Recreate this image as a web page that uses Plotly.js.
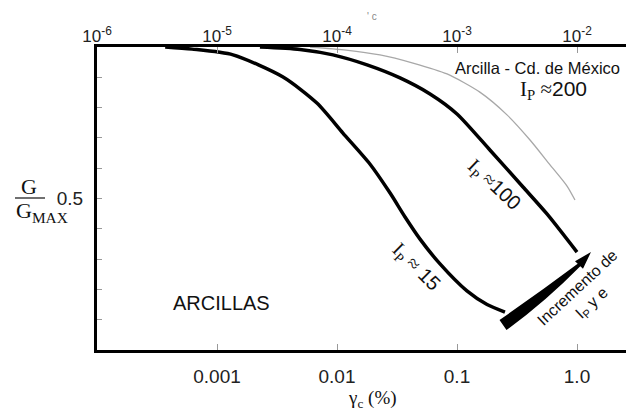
<!DOCTYPE html>
<html><head><meta charset="utf-8">
<script src="https://cdn.plot.ly/plotly-3.0.1.min.js"></script>
<style>html,body{margin:0;padding:0;background:#fff}</style>
</head><body><div id="chart" style="width:626px;height:413px"></div>
<script>
// Shear strain (%) and G/Gmax
const strainIp15 = [0.00037,0.00062,0.00136,0.00355,0.0068,0.0112,0.0188,0.0277,0.0369,0.0492,0.0722,0.121,0.178,0.251];
const gIp15      = [1.0,0.993,0.974,0.901,0.815,0.716,0.614,0.518,0.439,0.366,0.284,0.195,0.150,0.125];
const strainIp100 = [0.00228,0.00492,0.00926,0.0178,0.0335,0.0596,0.1,0.188,0.355,0.562,1.0];
const gIp100      = [1.0,0.992,0.974,0.941,0.898,0.845,0.779,0.660,0.538,0.449,0.323];
const strainIp200 = [0.00596,0.0119,0.0228,0.043,0.0826,0.155,0.261,0.406,0.596,0.826,0.962];
const gIp200      = [1.0,0.99,0.974,0.947,0.911,0.851,0.776,0.693,0.611,0.541,0.495];

const bottomTickVals = [0.001,0.01,0.1,1];
const bottomTickText = ['0.001','0.01','0.1','1.0'];
const topTickVals = [1e-6,1e-5,1e-4,1e-3,1e-2];
const topTickText = ['10<sup>-6</sup>','10<sup>-5</sup>','10<sup>-4</sup>','10<sup>-3</sup>','10<sup>-2</sup>'];
const yTickVals = [0,0.1,0.2,0.3,0.4,0.5,0.6,0.7,0.8,0.9,1.0];
const yTickText = ['','','','','','0.5','','','','',''];

const SANS = 'Liberation Sans, Arial, sans-serif';
const SERIF = 'Liberation Serif, Times New Roman, serif';

// plot-area geometry helpers (for decorations only)
const L = 97, T = 47, W = 529, H = 303;
const px = v => (v - L) / W;
const py = v => (T + H - v) / H;
const decadeWidth = 120;
const xRightLog = -4 + W / decadeWidth;

const traces = [
  {x: strainIp200, y: gIp200, mode: 'lines', line: {color: '#a8a8a8', width: 1.3, shape: 'spline', smoothing: 0.7}, hoverinfo: 'skip', showlegend: false},
  {x: strainIp100, y: gIp100, mode: 'lines', line: {color: '#000', width: 3.5, shape: 'spline', smoothing: 0.7}, hoverinfo: 'skip', showlegend: false},
  {x: strainIp15, y: gIp15, mode: 'lines', line: {color: '#000', width: 3.5, shape: 'spline', smoothing: 0.7}, hoverinfo: 'skip', showlegend: false},
  {x: [1e-5], y: [0.5], xaxis: 'x2', mode: 'markers', marker: {opacity: 0}, hoverinfo: 'skip', showlegend: false}
];

// tapered arrow (pixel geometry converted to paper)
const P = (a, b) => px(a).toFixed(4) + ',' + py(b).toFixed(4);
const arrowPath = 'M ' + P(499.5,320) + ' Q ' + P(540,292) + ' ' + P(577.7,263.8) +
  ' L ' + P(575,261.3) + ' L ' + P(591,252) + ' L ' + P(583,268.7) + ' L ' + P(580.3,266.2) +
  ' Q ' + P(545,302) + ' ' + P(506.5,330) + ' Z';

const ann = (x, y, text, size, family, extra) => Object.assign({
  xref: 'paper', yref: 'paper', x: px(x), y: py(y), text: text, showarrow: false,
  xanchor: 'center', yanchor: 'middle', font: {family: family, size: size, color: '#111'}
}, extra || {});

const layout = {
  width: 626, height: 413,
  margin: {l: L, r: 0, t: T, b: 413 - T - H, pad: 0},
  paper_bgcolor: '#fff', plot_bgcolor: '#fff',
  showlegend: false,
  xaxis: {
    type: 'log', range: [-4, xRightLog],
    tickvals: bottomTickVals, ticktext: bottomTickText,
    ticks: 'inside', ticklen: 6, tickwidth: 1, tickcolor: '#999',
    showline: true, linecolor: '#000', linewidth: 3, mirror: false,
    showgrid: false, zeroline: false,
    tickfont: {family: SANS, size: 19, color: '#222'}, ticklabelstandoff: 7
  },
  xaxis2: {
    type: 'log', overlaying: 'x', side: 'top', anchor: 'y',
    range: [-6, -6 + W / decadeWidth],
    tickvals: topTickVals, ticktext: topTickText,
    ticks: 'inside', ticklen: 6, tickwidth: 1, tickcolor: '#999',
    showline: true, linecolor: '#000', linewidth: 3,
    showgrid: false, zeroline: false,
    tickfont: {family: SANS, size: 17, color: '#222'}, ticklabelstandoff: -5
  },
  yaxis: {
    range: [0, 1], tickvals: yTickVals, ticktext: yTickText,
    ticks: 'inside', ticklen: 5, tickwidth: 1, tickcolor: '#999',
    showline: true, linecolor: '#000', linewidth: 3,
    showgrid: false, zeroline: false,
    tickfont: {family: SANS, size: 19, color: '#222'}, ticklabelstandoff: 7
  },
  shapes: [
    {type: 'path', xref: 'paper', yref: 'paper', path: arrowPath, fillcolor: '#000', line: {width: 0}},
    {type: 'line', xref: 'paper', yref: 'paper', x0: px(15), x1: px(45), y0: py(198), y1: py(198), line: {color: '#222', width: 1.3}}
  ],
  annotations: [
    ann(537, 68, 'Arcilla - Cd. de México', 16.5, SANS),
    ann(553, 90, '<span style="font-family:Liberation Serif">I<sub>P</sub> ≈</span>200', 21, SANS),
    ann(494, 185, '<span style="font-family:Liberation Serif">I<sub>P</sub> ≈</span>100', 20, SANS, {textangle: 43}),
    ann(416, 267, '<span style="font-family:Liberation Serif">I<sub>P</sub> ≈</span> 15', 20, SANS, {textangle: 45}),
    ann(221, 303, 'ARCILLAS', 20, SANS),
    ann(585, 296, 'Incremento de<br>I<sub>P</sub> y e', 16, SANS, {textangle: -43}),
    ann(29, 186, 'G', 22, SERIF),
    ann(42, 212, 'G<sub>MAX</sub>', 22, SERIF),
    ann(372, 399, 'γ<sub>c</sub> (%)', 19, SERIF),
    ann(372, 17, "' c", 10, SANS, {font: {family: SANS, size: 10, color: '#888'}})
  ]
};

Plotly.newPlot('chart', traces, layout, {staticPlot: true, displayModeBar: false});
</script></body></html>
